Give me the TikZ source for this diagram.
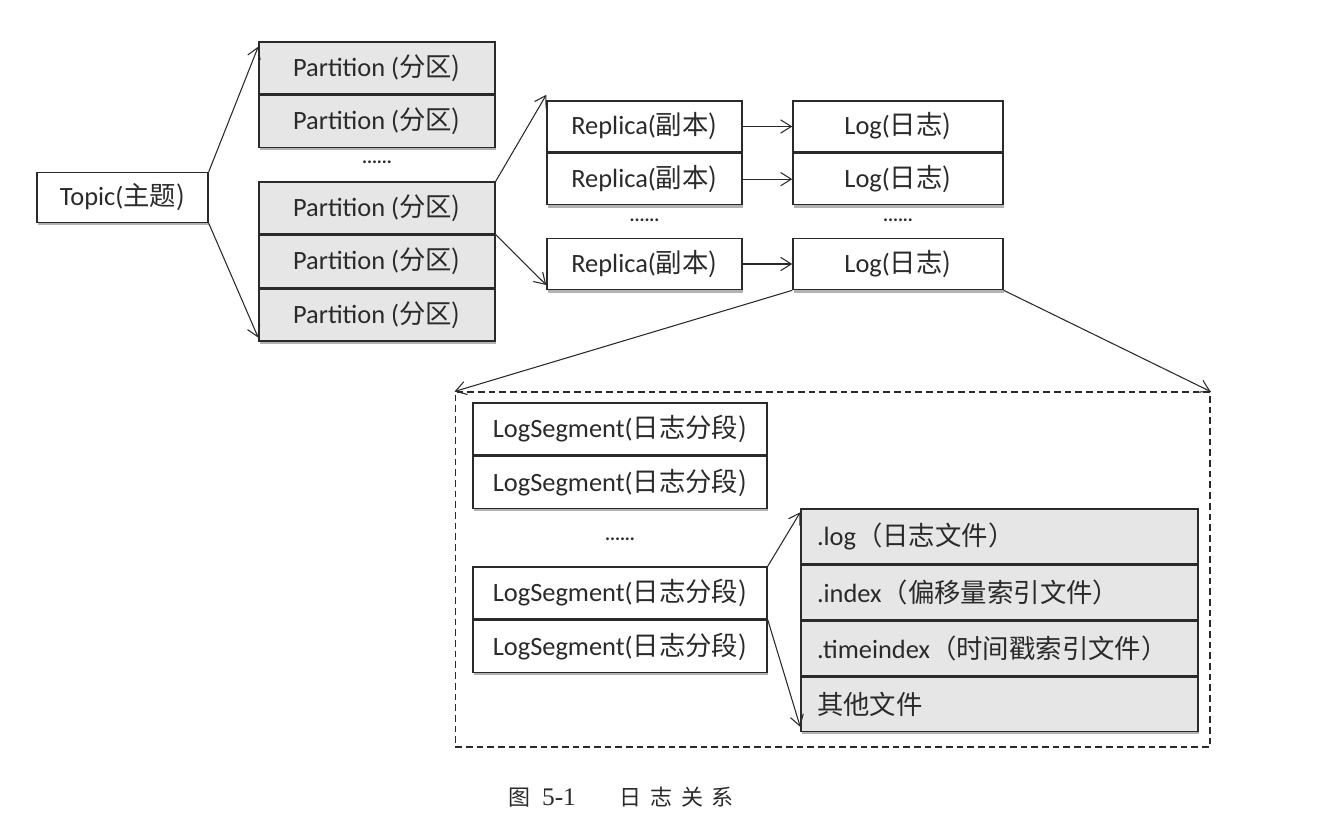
\documentclass[tikz,border=0pt]{standalone}
\usepackage{fontspec}
\setmainfont{Carlito}
\newfontfamily\cjk{Noto Sans CJK SC}
\newfontfamily\capserif{Liberation Serif}
\usepackage{xcolor}
\usetikzlibrary{arrows.meta,positioning,shadows}
\definecolor{Ink}{HTML}{2A2A2A}
\definecolor{SoftGray}{HTML}{E6E6E6}

\begin{document}
\begin{tikzpicture}[
  x=0.75pt,y=-0.75pt,
  box/.style={draw=Ink,fill=white,line width=1.1pt,inner sep=0pt,text=Ink,
    font=\fontsize{19.8}{24}\selectfont,
    drop shadow={shadow xshift=0.6pt,shadow yshift=-2.2pt,fill=black,opacity=0.3}},
  part/.style={box,fill=SoftGray,minimum width=177pt,minimum height=39pt},
  rep/.style={box,minimum width=146.25pt,minimum height=38.4pt},
  logbox/.style={box,minimum width=157.5pt,minimum height=38.4pt},
  seg/.style={box,minimum width=220.5pt,minimum height=39pt},
  file/.style={box,fill=SoftGray,minimum height=40.9pt,text width=273.75pt,inner xsep=12pt,align=left},
  dots/.style={font=\bfseries\fontsize{14}{16}\selectfont,text=Ink,inner sep=1pt},
  group/.style={draw=Ink,dash pattern=on 5pt off 3pt,line width=1pt,minimum width=566pt,minimum height=266pt,inner sep=0pt},
  arr/.style={-{Straight Barb[length=8pt,width=10pt]},line width=0.8pt,draw=Ink}
]
\useasboundingbox (0,0) rectangle (1318,830);

% topic and partitions
\node[box,minimum width=128.25pt,minimum height=37.5pt] (topic) at (122.5,197.5) {Topic(\cjk 主题)};
\node[part] (p1) at (377,68) {Partition (\cjk{分区})};
\node[part,below=0pt of p1] (p2) {Partition (\cjk{分区})};
\node[dots] (pdots) at (377,162) {......};
\node[part] (p3) at (377,208) {Partition (\cjk{分区})};
\node[part,below=0pt of p3] (p4) {Partition (\cjk{分区})};
\node[part,below=0pt of p4] (p5) {Partition (\cjk{分区})};

% replicas and logs
\node[rep] (r1) at (644.5,126.5) {Replica(\cjk{副本})};
\node[rep,below=0pt of r1] (r2) {Replica(\cjk{副本})};
\node[dots] (rdots) at (644.5,220) {......};
\node[rep] (r3) at (644.5,264) {Replica(\cjk{副本})};
\node[logbox] (l1) at (898,126.5) {Log(\cjk{日志})};
\node[logbox,below=0pt of l1] (l2) {Log(\cjk{日志})};
\node[dots] (ldots) at (898,220) {......};
\node[logbox] (l3) at (898,264) {Log(\cjk{日志})};

% segments of one log
\node[group] (grp) at (832.5,569.5) {};
\node[seg] (s1) at (620,429) {LogSegment(\cjk{日志分段})};
\node[seg,below=0pt of s1] (s2) {LogSegment(\cjk{日志分段})};
\node[dots] (sdots) at (620,539) {......};
\node[seg] (s3) at (620,593) {LogSegment(\cjk{日志分段})};
\node[seg,below=0pt of s3] (s4) {LogSegment(\cjk{日志分段})};

% files of one segment
\node[file] (f1) at (999.5,536.25) {.log\cjk{（日志文件）}};
\node[file,below=0pt of f1] (f2) {.index\cjk{（偏移量索引文件）}};
\node[file,below=0pt of f2] (f3) {.timeindex\cjk{（时间戳索引文件）}};
\node[file,below=0pt of f3] (f4) {\cjk{其他文件}};

\draw[arr] (topic.north east) -- ([yshift=-4pt]p1.north west);
\draw[arr] (topic.south east) -- ([yshift=3pt]p5.south west);
\draw[arr] (p3.north east) -- ([yshift=4pt]r1.north west);
\draw[arr] (p3.south east) -- ([yshift=4pt]r3.south west);
\foreach \i in {1,2,3}
  \draw[arr] (r\i) -- (l\i);
\draw[arr] (l3.south west) -- (grp.north west);
\draw[arr] (l3.south east) -- (grp.north east);
\draw[arr] (s3.north east) -- ([yshift=-3pt]f1.north west);
\draw[arr] (s3.south east) -- ([yshift=4pt]f4.south west);

\node[text=Ink,font=\fontsize{16.5}{20}\selectfont] (caption) at (621,797)
  {\cjk 图\hspace{9pt}{\capserif\fontsize{19}{20}\selectfont 5-1}\hspace{33pt}日\hspace{6.5pt}志\hspace{6.5pt}关\hspace{6.5pt}系};
\end{tikzpicture}
\end{document}
